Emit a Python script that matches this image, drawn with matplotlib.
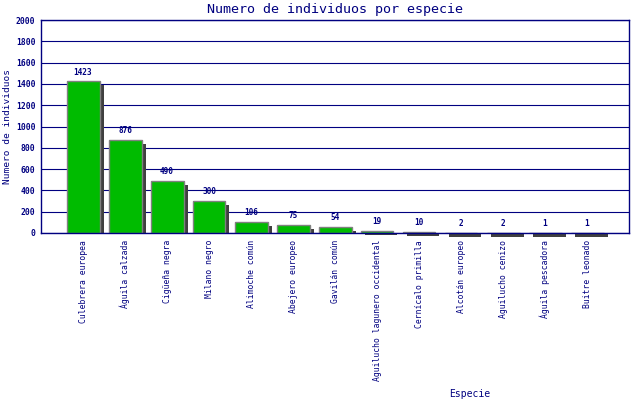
import matplotlib
matplotlib.use("Agg")
import matplotlib.pyplot as plt
import numpy as np

especies = ["Culebrera europea", "Águila calzada", "Cigüeña negra", "Milano negro",
            "Alimoche común", "Abejero europeo", "Gavilán común",
            "Aguilucho lagunero occidental", "Cernícalo primilla", "Alcotán europeo",
            "Aguilucho cenizo", "Águila pescadora", "Buitre leonado"]
individuos = [1423, 876, 490, 300, 106, 75, 54, 19, 10, 2, 2, 1, 1]
yticks = list(range(0, 2001, 200))

NAVY = "#000080"
GREEN = "#00bb00"
SHADOW = "#404040"
MONO = "DejaVu Sans Mono"

fig = plt.figure(figsize=(6.4, 4.0), dpi=100)
ax = fig.add_axes([41 / 640, 1 - 233 / 400, 588 / 640, 213 / 400])

x = np.arange(1, len(especies) + 1)
width = 33 / 42
dx = 4 / 42          # shadow offset, 4 px
dy = 4 * 2000 / 213  # shadow offset, 4 px in data units

vals = np.array(individuos, dtype=float)
ax.bar(x + dx, vals - dy, width=width, color=SHADOW, zorder=2, clip_on=False)
ax.bar(x, vals, width=width, color=GREEN, edgecolor="#808080", linewidth=1, zorder=3)

for xi, v in zip(x, individuos):
    ax.text(xi, v + 45, str(v), ha="center", va="bottom", fontsize=5.6,
            fontweight="bold", color=NAVY, family=MONO, zorder=4)

ax.set_xlim(0, 14)
ax.set_ylim(0, 2000)
ax.set_yticks(yticks)
ax.set_yticklabels([str(t) for t in yticks], fontsize=5.8, fontweight="bold",
                   color=NAVY, family=MONO)
ax.tick_params(axis="y", length=0, pad=4)
ax.set_xticks(x)
ax.set_xticklabels(especies, rotation=90, fontsize=5.8, color=NAVY, family=MONO,
                   va="top", ha="center")
ax.tick_params(axis="x", length=0, pad=5)

ax.grid(axis="y", color=NAVY, linewidth=0.8, zorder=1)
ax.set_axisbelow(True)
for s in ax.spines.values():
    s.set_color(NAVY)
    s.set_linewidth(1.0)
    s.set_zorder(5)

fig.text(335 / 640, 1 - 9 / 400, "Numero de individuos por especie", ha="center",
         va="center", fontsize=9.6, color=NAVY, family=MONO)
fig.text(8 / 640, 1 - 127 / 400, "Numero de individuos", rotation=90, ha="center",
         va="center", fontsize=6.8, color=NAVY, family=MONO)
fig.text(470 / 640, 1 - 394 / 400, "Especie", ha="center", va="center",
         fontsize=7, color=NAVY, family=MONO)

fig.savefig("out.png", dpi=100)
